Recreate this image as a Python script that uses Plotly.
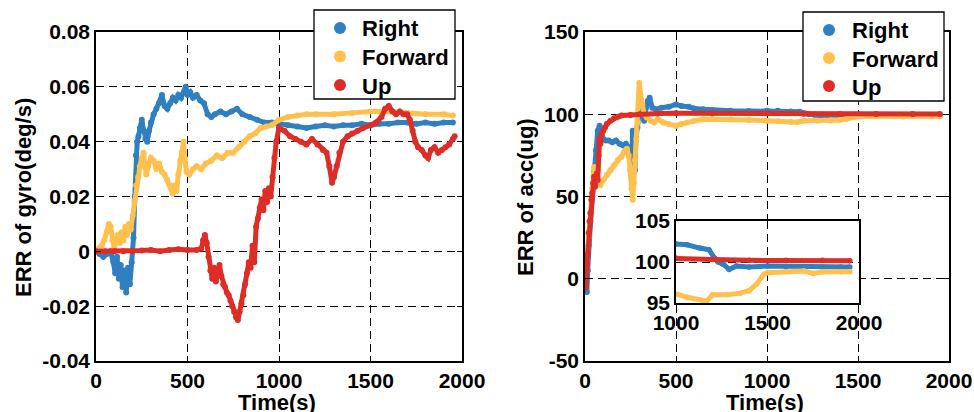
import plotly.graph_objects as go

# ---------------- data ----------------
series_names = ["Right", "Forward", "Up"]
series_colors = ["#2F7FC1", "#FFC04D", "#DE2D26"]

# Gyro ERR (deg/s)
gyro_right_t = [0, 20, 40, 60, 80, 95, 105, 115, 125, 135, 145, 155, 165, 175, 185, 195, 205, 212, 218, 225,
                232, 240, 250, 260, 270, 280, 290, 300, 315, 330, 345, 360, 375, 390, 405, 420, 435, 450, 465,
                480, 490, 500, 515, 530, 550, 570, 590, 610, 630, 650, 680, 710, 740, 770, 800, 840, 880, 920,
                960, 1000, 1050, 1100, 1150, 1200, 1250, 1300, 1350, 1400, 1450, 1500, 1550, 1600, 1650, 1700,
                1750, 1800, 1850, 1900, 1950]
gyro_right_v = [0, -0.001, -0.002, -0.001, 0.0, -0.004, -0.008, -0.002, -0.010, -0.005, -0.013, -0.007, -0.015,
                -0.006, -0.012, -0.004, 0.005, 0.020, 0.035, 0.040, 0.042, 0.045, 0.048, 0.044, 0.041, 0.040,
                0.044, 0.047, 0.050, 0.052, 0.054, 0.057, 0.053, 0.052, 0.054, 0.056, 0.055, 0.057, 0.056, 0.058,
                0.060, 0.057, 0.058, 0.056, 0.057, 0.055, 0.054, 0.050, 0.049, 0.050, 0.051, 0.050, 0.051, 0.052,
                0.050, 0.049, 0.048, 0.047, 0.047, 0.0465, 0.046, 0.0455, 0.045, 0.0455, 0.046, 0.0455, 0.046,
                0.046, 0.0465, 0.046, 0.0465, 0.0465, 0.047, 0.047, 0.0465, 0.047, 0.0465, 0.047, 0.047]

gyro_fwd_t = [0, 15, 30, 45, 60, 70, 80, 90, 100, 110, 120, 130, 140, 150, 160, 170, 180, 190, 200, 210, 220,
              230, 240, 250, 260, 265, 275, 285, 300, 315, 330, 345, 360, 375, 390, 405, 420, 430, 440, 450, 460,
              470, 478, 485, 495, 510, 530, 550, 575, 600, 630, 660, 690, 720, 750, 780, 810, 840, 870, 900, 930,
              960, 1000, 1050, 1100, 1150, 1200, 1300, 1400, 1500, 1600, 1700, 1800, 1900, 1950]
gyro_fwd_v = [0, 0.001, 0.002, 0.004, 0.007, 0.010, 0.009, 0.004, 0.001, 0.004, 0.006, 0.003, 0.007, 0.004,
              0.009, 0.006, 0.010, 0.008, 0.013, 0.018, 0.024, 0.027, 0.031, 0.034, 0.036, 0.032, 0.028, 0.031,
              0.034, 0.033, 0.030, 0.032, 0.029, 0.028, 0.026, 0.024, 0.021, 0.024, 0.022, 0.028, 0.033, 0.036,
              0.040, 0.034, 0.029, 0.028, 0.030, 0.031, 0.030, 0.032, 0.033, 0.035, 0.034, 0.036, 0.036, 0.038,
              0.040, 0.042, 0.043, 0.045, 0.0455, 0.046, 0.048, 0.049, 0.0495, 0.050, 0.050, 0.050, 0.0505,
              0.051, 0.051, 0.0505, 0.050, 0.050, 0.0495]

gyro_up_t = [0, 50, 100, 150, 200, 250, 300, 350, 400, 450, 500, 550, 575, 585, 595, 605, 615, 625, 635, 645,
             655, 665, 675, 685, 695, 705, 715, 725, 735, 745, 755, 765, 775, 785, 795, 805, 815, 825, 835, 845,
             855, 865, 875, 885, 895, 905, 915, 925, 935, 945, 955, 965, 975, 985, 1000, 1030, 1060, 1090, 1120,
             1150, 1180, 1210, 1240, 1260, 1275, 1290, 1300, 1315, 1330, 1350, 1375, 1400, 1430, 1460, 1500,
             1530, 1560, 1580, 1600, 1620, 1640, 1660, 1680, 1700, 1715, 1730, 1745, 1760, 1780, 1800, 1815,
             1830, 1850, 1870, 1890, 1910, 1930, 1950, 1960]
gyro_up_v = [0, 0.0, 0.0, 0.0, 0.0, 0.0003, 0.0005, 0.0, 0.0005, 0.0008, 0.0005, 0.0005, 0.001, 0.004, 0.006,
             0.003, -0.002, -0.007, -0.010, -0.006, -0.011, -0.008, -0.005, -0.009, -0.012, -0.013, -0.015,
             -0.016, -0.018, -0.020, -0.022, -0.024, -0.025, -0.022, -0.019, -0.016, -0.012, -0.008, -0.004,
             -0.006, 0.002, -0.004, 0.009, 0.012, 0.016, 0.019, 0.015, 0.022, 0.018, 0.023, 0.020, 0.027, 0.034,
             0.040, 0.045, 0.044, 0.042, 0.041, 0.040, 0.039, 0.041, 0.039, 0.037, 0.036, 0.031, 0.025, 0.027,
             0.031, 0.036, 0.040, 0.042, 0.043, 0.044, 0.045, 0.046, 0.047, 0.049, 0.052, 0.053, 0.051, 0.050,
             0.051, 0.050, 0.050, 0.048, 0.044, 0.040, 0.038, 0.037, 0.035, 0.034, 0.037, 0.038, 0.036, 0.037,
             0.038, 0.039, 0.041, 0.042]

# Acc ERR (ug)
acc_right_t = [0, 5, 10, 15, 20, 30, 40, 50, 60, 70, 80, 90, 100, 115, 130, 150, 170, 190, 210, 225, 240, 250,
               256, 262, 268, 274, 280, 288, 296, 305, 315, 325, 335, 345, 355, 370, 390, 420, 460, 500, 530, 570,
               600, 650, 700, 800, 900, 1000, 1060, 1130, 1180, 1210, 1230, 1260, 1290, 1330, 1400, 1500, 1600,
               1700, 1800, 1900, 1950]
acc_right_v = [0, -3, -8, 5, 20, 35, 50, 65, 78, 90, 93, 87, 85, 84, 84, 83, 84, 82, 81, 82, 80, 78, 70, 90, 75,
               66, 85, 92, 100, 108, 100, 96, 104, 108, 110, 104, 103, 104, 104.5, 106, 105, 104.5, 103.5, 103,
               102.5, 102.2, 102, 102.2, 102.1, 101.7, 101.5, 100.5, 100, 99.7, 99.1, 99.5, 99.4, 99.5, 99.45,
               99.45, 99.4, 99.4, 99.4]

acc_fwd_t = [0, 5, 10, 20, 30, 40, 50, 60, 70, 85, 100, 120, 140, 160, 180, 200, 215, 230, 240, 248, 255, 262,
             268, 275, 282, 290, 298, 305, 315, 325, 340, 360, 380, 400, 430, 460, 500, 530, 560, 600, 650, 700,
             800, 900, 1000, 1060, 1130, 1166, 1200, 1280, 1350, 1400, 1440, 1480, 1500, 1600, 1700, 1750, 1800,
             1900, 1950]
acc_fwd_v = [0, 5, 12, 25, 40, 55, 68, 62, 58, 57, 60, 63, 66, 69, 72, 74, 77, 79, 75, 66, 55, 48, 58, 72, 85,
             95, 119, 112, 106, 100, 98, 96, 95, 97, 95, 94, 93, 94, 95, 96, 97, 97, 96.8, 96.5, 96.1, 95.7, 95.4,
             95.2, 96.0, 96.0, 96.2, 96.5, 97.3, 98.5, 98.7, 98.8, 98.9, 98.6, 98.8, 98.8, 98.8]

acc_up_t = [0, 5, 10, 15, 20, 25, 30, 35, 40, 45, 50, 55, 60, 65, 70, 75, 80, 85, 90, 100, 110, 120, 140, 160,
            180, 200, 250, 300, 400, 500, 700, 1000, 1200, 1400, 1600, 1800, 1950]
acc_up_v = [0, -5, 8, 15, 28, 35, 40, 48, 52, 58, 62, 56, 60, 64, 60, 75, 85, 82, 88, 90, 92, 94, 96, 97.5, 98.5,
            99.2, 99.6, 100, 100.4, 100.6, 100.6, 100.5, 100.3, 100.2, 100.2, 100.2, 100.15]

# axis ticks
time_ticks = [0, 500, 1000, 1500, 2000]
time_ticklabels = ["0", "500", "1000", "1500", "2000"]
gyro_ticks = [-0.04, -0.02, 0, 0.02, 0.04, 0.06, 0.08]
gyro_ticklabels = ["-0.04", "-0.02", "0", "0.02", "0.04", "0.06", "0.08"]
acc_ticks = [-50, 0, 50, 100, 150]
acc_ticklabels = ["-50", "0", "50", "100", "150"]
inset_xticks = [1000, 1500, 2000]
inset_xticklabels = ["1000", "1500", "2000"]
inset_yticks = [95, 100, 105]
inset_yticklabels = ["95", "100", "105"]

# ---------------- figure ----------------
W, H = 974, 412
FONT = "Liberation Sans, Arial, sans-serif"

fig = go.Figure()

gyro = [(gyro_right_t, gyro_right_v), (gyro_fwd_t, gyro_fwd_v), (gyro_up_t, gyro_up_v)]
acc = [(acc_right_t, acc_right_v), (acc_fwd_t, acc_fwd_v), (acc_up_t, acc_up_v)]

def add_series(t, v, color, xa, ya, lw=5, ms=6):
    fig.add_trace(go.Scatter(x=t, y=v, mode="lines+markers", xaxis=xa, yaxis=ya, showlegend=False,
                             line=dict(color=color, width=lw), marker=dict(color=color, size=ms),
                             hoverinfo="skip"))

for (t, v), c in zip(gyro, series_colors):
    add_series(t, v, c, "x", "y")
for (t, v), c in zip(acc, series_colors):
    add_series(t, v, c, "x2", "y2")
for (t, v), c in zip(acc, series_colors):
    add_series(t, v, c, "x3", "y3", lw=5, ms=5.5)

tickfont = dict(family=FONT, size=21, color="black", weight="bold")

def axis_style(**kw):
    d = dict(showline=True, linecolor="black", linewidth=1.5, mirror="ticks", ticks="inside", ticklen=5,
             tickcolor="black", tickwidth=1, showgrid=True, gridcolor="black", gridwidth=1,
             griddash="8px,5px", zeroline=False, tickfont=tickfont, tickmode="array", fixedrange=True,
             automargin=False)
    d.update(kw)
    return d

def px_x(p):
    return p / W

def px_y(p):
    return (H - p) / H

y0 = px_y(361)
y1 = px_y(32)

fig.update_layout(
    width=W, height=H, margin=dict(l=0, r=0, t=0, b=0, autoexpand=False),
    paper_bgcolor="white", plot_bgcolor="white", showlegend=False,
    xaxis=axis_style(domain=[px_x(96), px_x(462)], range=[0, 2000], tickvals=time_ticks,
                     ticktext=time_ticklabels, anchor="y"),
    yaxis=axis_style(domain=[y0, y1], range=[-0.04, 0.08], tickvals=gyro_ticks, ticktext=gyro_ticklabels,
                     anchor="x"),
    xaxis2=axis_style(domain=[px_x(585), px_x(949)], range=[0, 2000], tickvals=time_ticks,
                      ticktext=time_ticklabels, anchor="y2"),
    yaxis2=axis_style(domain=[y0, y1], range=[-50, 150], tickvals=acc_ticks, ticktext=acc_ticklabels,
                      anchor="x2"),
    xaxis3=axis_style(domain=[px_x(676), px_x(859)], range=[1000, 2000], tickvals=inset_xticks,
                      ticktext=inset_xticklabels, anchor="y3", ticks=""),
    yaxis3=axis_style(domain=[px_y(303), px_y(221)], range=[95, 105], tickvals=inset_yticks,
                      ticktext=inset_yticklabels, anchor="x3", ticks=""),
)

# legend boxes (drawn as layout decorations, positioned in pixels)
legend_boxes = [
    dict(left=314, right=455, top=10, bottom=99, sym_x=340, txt_x=360, rows=[28, 56.5, 85]),
    dict(left=803, right=944, top=12, bottom=101, sym_x=829, txt_x=850, rows=[30, 58, 86]),
]
legfont = dict(family=FONT, size=22, color="black", weight="bold")
for lb in legend_boxes:
    fig.add_shape(type="rect", xref="paper", yref="paper", layer="above",
                  x0=px_x(lb["left"]), x1=px_x(lb["right"]), y0=px_y(lb["bottom"]), y1=px_y(lb["top"]),
                  line=dict(color="black", width=1.3), fillcolor="white")
    for name, c, ry in zip(series_names, series_colors, lb["rows"]):
        r = 6
        fig.add_shape(type="circle", xref="paper", yref="paper", layer="above",
                      x0=px_x(lb["sym_x"] - r), x1=px_x(lb["sym_x"] + r),
                      y0=px_y(ry + r), y1=px_y(ry - r), line=dict(width=0), fillcolor=c)
        fig.add_annotation(xref="paper", yref="paper", x=px_x(lb["txt_x"]), y=px_y(ry + 1), text=name,
                           showarrow=False, xanchor="left", yanchor="middle", font=legfont)

titlefont = dict(family=FONT, size=22, color="black", weight="bold")
annots = [
    dict(text="ERR of gyro(deg/s)", x=px_x(23), y=px_y(198), textangle=-90),
    dict(text="ERR of acc(ug)", x=px_x(525), y=px_y(197), textangle=-90),
    dict(text="Time(s)", x=px_x(277), y=px_y(402)),
    dict(text="Time(s)", x=px_x(765), y=px_y(402)),
]
for a in annots:
    fig.add_annotation(xref="paper", yref="paper", showarrow=False, xanchor="center", yanchor="middle",
                       font=titlefont, **a)

fig.write_html("out.html")
